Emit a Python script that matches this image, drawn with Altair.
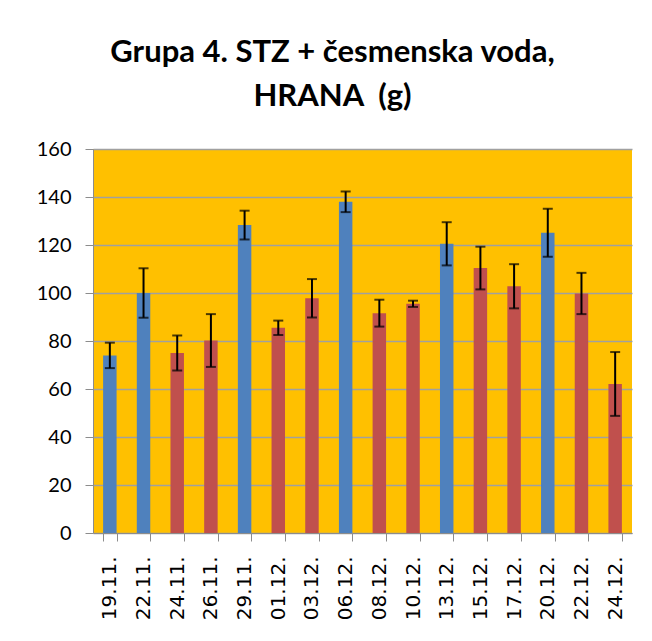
import altair as alt
import pandas as pd

dates = ["19.11.", "22.11.", "24.11.", "26.11.", "29.11.", "01.12.", "03.12.", "06.12.",
         "08.12.", "10.12.", "13.12.", "15.12.", "17.12.", "20.12.", "22.12.", "24.12."]
values = [74, 100, 75, 80.2, 128.3, 85.5, 97.8, 138, 91.6, 95.5, 120.5, 110.4, 102.8, 125.1, 99.8, 62.1]
errors = [5.3, 10.3, 7.3, 11, 6, 3, 8, 4.3, 5.6, 1.3, 9, 8.9, 9.2, 10, 8.6, 13.3]
groups = ["A", "A", "B", "B", "A", "B", "B", "A", "B", "B", "A", "B", "B", "A", "B", "B"]

df = pd.DataFrame({"date": dates, "value": values, "err": errors, "grp": groups})
df["lo"] = df["value"] - df["err"]
df["hi"] = df["value"] + df["err"]

xenc = alt.X("date:N", sort=dates, title=None,
             scale=alt.Scale(paddingInner=0.6, paddingOuter=0.3),
             axis=alt.Axis(labelAngle=270, labelFont="DejaVu Sans", labelFontSize=20,
                           labelColor="#000000", tickBand="extent", tickSize=8,
                           tickColor="#8c8c8c", domainColor="#8c8c8c", labelPadding=15,
                           grid=False))

base = alt.Chart(df)

bars = base.mark_bar().encode(
    x=xenc,
    y=alt.Y("value:Q", title=None,
            scale=alt.Scale(domain=[0, 160], nice=False),
            axis=alt.Axis(values=[0, 20, 40, 60, 80, 100, 120, 140, 160],
                          labelFont="Lato", labelFontSize=20, labelColor="#000000",
                          tickSize=8, tickColor="#8c8c8c", domainColor="#8c8c8c",
                          gridColor="#a0a0a0", gridWidth=1.5, labelPadding=14)),
    color=alt.Color("grp:N", scale=alt.Scale(domain=["A", "B"], range=["#4F81BD", "#C0504D"]),
                    legend=None),
)

rules = base.mark_rule(color="#000000", strokeWidth=2).encode(
    x=alt.X("date:N", sort=dates), y="lo:Q", y2="hi:Q")
cap_lo = base.mark_tick(color="#000000", thickness=2, size=10).encode(
    x=alt.X("date:N", sort=dates), y="lo:Q")
cap_hi = base.mark_tick(color="#000000", thickness=2, size=10).encode(
    x=alt.X("date:N", sort=dates), y="hi:Q")

chart = alt.layer(bars, rules, cap_lo, cap_hi).properties(
    width=539, height=384,
    autosize=alt.AutoSizeParams(type="none"),
    padding={"left": 85, "top": 141, "right": 12, "bottom": 100},
    title=alt.TitleParams(text=["Grupa 4. STZ + česmenska voda,", "HRANA \u00a0(g)"],
                          font="Lato", fontSize=31, fontWeight="bold", color="#000000",
                          anchor="middle", dx=-30, offset=26, lineHeight=44),
    background="#ffffff",
).configure_view(fill="#FFC000", stroke=None)

chart.save("out.html", embed_options={"renderer": "svg", "actions": False})
